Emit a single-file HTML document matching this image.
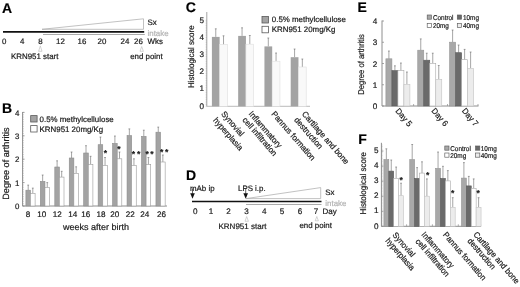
<!DOCTYPE html>
<html lang="en">
<head>
<meta charset="utf-8">
<title>Figure</title>
<style>
html,body{margin:0;padding:0;background:#fff;}
body{width:520px;height:287px;overflow:hidden;}
svg{display:block;font-family:"Liberation Sans", sans-serif;will-change:transform;text-rendering:geometricPrecision;}
svg text{font-family:"Liberation Sans", sans-serif;}
</style>
</head>
<body>
<svg width="520" height="287" viewBox="0 0 520 287">
<rect x="0" y="0" width="520" height="287" fill="#ffffff"/>
<text x="2" y="12.5" font-size="14" text-anchor="start" fill="#000" stroke="#000" stroke-width="0.15" font-weight="bold">A</text>
<polygon points="42,29.3 143.5,18.8 143.5,29.3" fill="#fff" stroke="#a8a8a8" stroke-width="0.7"/>
<line x1="3" y1="31.95" x2="144.2" y2="31.95" stroke="#111" stroke-width="1.7"/>
<line x1="43" y1="34.5" x2="144.8" y2="34.5" stroke="#969696" stroke-width="0.8"/>
<text x="4.3" y="44.3" font-size="7.9" text-anchor="middle" fill="#1a1a1a" stroke="#1a1a1a" stroke-width="0.2" font-weight="normal">0</text>
<text x="22.2" y="44.3" font-size="7.9" text-anchor="middle" fill="#1a1a1a" stroke="#1a1a1a" stroke-width="0.2" font-weight="normal">4</text>
<text x="40.5" y="44.3" font-size="7.9" text-anchor="middle" fill="#1a1a1a" stroke="#1a1a1a" stroke-width="0.2" font-weight="normal">8</text>
<text x="60.5" y="44.3" font-size="7.9" text-anchor="middle" fill="#1a1a1a" stroke="#1a1a1a" stroke-width="0.2" font-weight="normal">12</text>
<text x="82" y="44.3" font-size="7.9" text-anchor="middle" fill="#1a1a1a" stroke="#1a1a1a" stroke-width="0.2" font-weight="normal">16</text>
<text x="102" y="44.3" font-size="7.9" text-anchor="middle" fill="#1a1a1a" stroke="#1a1a1a" stroke-width="0.2" font-weight="normal">20</text>
<text x="125" y="44.3" font-size="7.9" text-anchor="middle" fill="#1a1a1a" stroke="#1a1a1a" stroke-width="0.2" font-weight="normal">24</text>
<text x="138.5" y="44.3" font-size="7.9" text-anchor="middle" fill="#1a1a1a" stroke="#1a1a1a" stroke-width="0.2" font-weight="normal">26</text>
<text x="147.5" y="25.3" font-size="7.9" text-anchor="start" fill="#1a1a1a" stroke="#1a1a1a" stroke-width="0.2" font-weight="normal">Sx</text>
<text x="147.5" y="35.6" font-size="7.9" text-anchor="start" fill="#b4b4b4" stroke="#b4b4b4" stroke-width="0.2" font-weight="normal">intake</text>
<text x="147.5" y="44.3" font-size="7.9" text-anchor="start" fill="#1a1a1a" stroke="#1a1a1a" stroke-width="0.2" font-weight="normal">Wks</text>
<polygon points="38.6,51.3 40.3,45.9 42.0,51.3" fill="#fff" stroke="#b8b8b8" stroke-width="0.6"/>
<polygon points="140.0,51.3 141.7,46.5 143.4,51.3" fill="#fff" stroke="#b8b8b8" stroke-width="0.6"/>
<text x="11" y="58.5" font-size="7.9" text-anchor="start" fill="#1a1a1a" stroke="#1a1a1a" stroke-width="0.2" font-weight="normal">KRN951 start</text>
<text x="130.2" y="58.5" font-size="7.9" text-anchor="start" fill="#1a1a1a" stroke="#1a1a1a" stroke-width="0.2" font-weight="normal">end point</text>
<text x="2" y="112.8" font-size="14" text-anchor="start" fill="#000" stroke="#000" stroke-width="0.15" font-weight="bold">B</text>
<line x1="22.6" y1="112" x2="22.6" y2="206.0" stroke="#8e8e8e" stroke-width="1"/>
<line x1="22.6" y1="206.0" x2="167" y2="206.0" stroke="#8e8e8e" stroke-width="1"/>
<text x="19.3" y="209.2" font-size="7.9" text-anchor="end" fill="#1a1a1a" stroke="#1a1a1a" stroke-width="0.2" font-weight="normal">0</text>
<line x1="22.6" y1="206.0" x2="24.6" y2="206.0" stroke="#8e8e8e" stroke-width="0.8"/>
<text x="19.3" y="185.79999999999998" font-size="7.9" text-anchor="end" fill="#1a1a1a" stroke="#1a1a1a" stroke-width="0.2" font-weight="normal">1</text>
<line x1="22.6" y1="182.6" x2="24.6" y2="182.6" stroke="#8e8e8e" stroke-width="0.8"/>
<text x="19.3" y="162.39999999999998" font-size="7.9" text-anchor="end" fill="#1a1a1a" stroke="#1a1a1a" stroke-width="0.2" font-weight="normal">2</text>
<line x1="22.6" y1="159.2" x2="24.6" y2="159.2" stroke="#8e8e8e" stroke-width="0.8"/>
<text x="19.3" y="139.0" font-size="7.9" text-anchor="end" fill="#1a1a1a" stroke="#1a1a1a" stroke-width="0.2" font-weight="normal">3</text>
<line x1="22.6" y1="135.8" x2="24.6" y2="135.8" stroke="#8e8e8e" stroke-width="0.8"/>
<text x="19.3" y="115.60000000000001" font-size="7.9" text-anchor="end" fill="#1a1a1a" stroke="#1a1a1a" stroke-width="0.2" font-weight="normal">4</text>
<line x1="22.6" y1="112.4" x2="24.6" y2="112.4" stroke="#8e8e8e" stroke-width="0.8"/>
<line x1="22.6" y1="206.00" x2="23.8" y2="206.00" stroke="#8e8e8e" stroke-width="0.4"/>
<line x1="22.6" y1="203.66" x2="23.8" y2="203.66" stroke="#8e8e8e" stroke-width="0.4"/>
<line x1="22.6" y1="201.32" x2="23.8" y2="201.32" stroke="#8e8e8e" stroke-width="0.4"/>
<line x1="22.6" y1="198.98" x2="23.8" y2="198.98" stroke="#8e8e8e" stroke-width="0.4"/>
<line x1="22.6" y1="196.64" x2="23.8" y2="196.64" stroke="#8e8e8e" stroke-width="0.4"/>
<line x1="22.6" y1="194.30" x2="23.8" y2="194.30" stroke="#8e8e8e" stroke-width="0.4"/>
<line x1="22.6" y1="191.96" x2="23.8" y2="191.96" stroke="#8e8e8e" stroke-width="0.4"/>
<line x1="22.6" y1="189.62" x2="23.8" y2="189.62" stroke="#8e8e8e" stroke-width="0.4"/>
<line x1="22.6" y1="187.28" x2="23.8" y2="187.28" stroke="#8e8e8e" stroke-width="0.4"/>
<line x1="22.6" y1="184.94" x2="23.8" y2="184.94" stroke="#8e8e8e" stroke-width="0.4"/>
<line x1="22.6" y1="182.60" x2="23.8" y2="182.60" stroke="#8e8e8e" stroke-width="0.4"/>
<line x1="22.6" y1="180.26" x2="23.8" y2="180.26" stroke="#8e8e8e" stroke-width="0.4"/>
<line x1="22.6" y1="177.92" x2="23.8" y2="177.92" stroke="#8e8e8e" stroke-width="0.4"/>
<line x1="22.6" y1="175.58" x2="23.8" y2="175.58" stroke="#8e8e8e" stroke-width="0.4"/>
<line x1="22.6" y1="173.24" x2="23.8" y2="173.24" stroke="#8e8e8e" stroke-width="0.4"/>
<line x1="22.6" y1="170.90" x2="23.8" y2="170.90" stroke="#8e8e8e" stroke-width="0.4"/>
<line x1="22.6" y1="168.56" x2="23.8" y2="168.56" stroke="#8e8e8e" stroke-width="0.4"/>
<line x1="22.6" y1="166.22" x2="23.8" y2="166.22" stroke="#8e8e8e" stroke-width="0.4"/>
<line x1="22.6" y1="163.88" x2="23.8" y2="163.88" stroke="#8e8e8e" stroke-width="0.4"/>
<line x1="22.6" y1="161.54" x2="23.8" y2="161.54" stroke="#8e8e8e" stroke-width="0.4"/>
<line x1="22.6" y1="159.20" x2="23.8" y2="159.20" stroke="#8e8e8e" stroke-width="0.4"/>
<line x1="22.6" y1="156.86" x2="23.8" y2="156.86" stroke="#8e8e8e" stroke-width="0.4"/>
<line x1="22.6" y1="154.52" x2="23.8" y2="154.52" stroke="#8e8e8e" stroke-width="0.4"/>
<line x1="22.6" y1="152.18" x2="23.8" y2="152.18" stroke="#8e8e8e" stroke-width="0.4"/>
<line x1="22.6" y1="149.84" x2="23.8" y2="149.84" stroke="#8e8e8e" stroke-width="0.4"/>
<line x1="22.6" y1="147.50" x2="23.8" y2="147.50" stroke="#8e8e8e" stroke-width="0.4"/>
<line x1="22.6" y1="145.16" x2="23.8" y2="145.16" stroke="#8e8e8e" stroke-width="0.4"/>
<line x1="22.6" y1="142.82" x2="23.8" y2="142.82" stroke="#8e8e8e" stroke-width="0.4"/>
<line x1="22.6" y1="140.48" x2="23.8" y2="140.48" stroke="#8e8e8e" stroke-width="0.4"/>
<line x1="22.6" y1="138.14" x2="23.8" y2="138.14" stroke="#8e8e8e" stroke-width="0.4"/>
<line x1="22.6" y1="135.80" x2="23.8" y2="135.80" stroke="#8e8e8e" stroke-width="0.4"/>
<line x1="22.6" y1="133.46" x2="23.8" y2="133.46" stroke="#8e8e8e" stroke-width="0.4"/>
<line x1="22.6" y1="131.12" x2="23.8" y2="131.12" stroke="#8e8e8e" stroke-width="0.4"/>
<line x1="22.6" y1="128.78" x2="23.8" y2="128.78" stroke="#8e8e8e" stroke-width="0.4"/>
<line x1="22.6" y1="126.44" x2="23.8" y2="126.44" stroke="#8e8e8e" stroke-width="0.4"/>
<line x1="22.6" y1="124.10" x2="23.8" y2="124.10" stroke="#8e8e8e" stroke-width="0.4"/>
<line x1="22.6" y1="121.76" x2="23.8" y2="121.76" stroke="#8e8e8e" stroke-width="0.4"/>
<line x1="22.6" y1="119.42" x2="23.8" y2="119.42" stroke="#8e8e8e" stroke-width="0.4"/>
<line x1="22.6" y1="117.08" x2="23.8" y2="117.08" stroke="#8e8e8e" stroke-width="0.4"/>
<line x1="22.6" y1="114.74" x2="23.8" y2="114.74" stroke="#8e8e8e" stroke-width="0.4"/>
<line x1="22.6" y1="112.40" x2="23.8" y2="112.40" stroke="#8e8e8e" stroke-width="0.4"/>
<text x="9.2" y="163.6" font-size="9.1" text-anchor="middle" fill="#1a1a1a" stroke="#1a1a1a" stroke-width="0.2" font-weight="normal" transform="rotate(-90 9.2 163.6)">Degree of arthritis</text>
<line x1="28.20" y1="185.10" x2="28.20" y2="190.20" stroke="#5c5c5c" stroke-width="0.55"/>
<line x1="27.30" y1="185.10" x2="29.10" y2="185.10" stroke="#5c5c5c" stroke-width="0.55"/>
<rect x="25.90" y="190.20" width="4.60" height="15.80" fill="#a3a3a3" stroke="#8c8c8c" stroke-width="0.6"/>
<line x1="32.80" y1="188.10" x2="32.80" y2="193.40" stroke="#5c5c5c" stroke-width="0.55"/>
<line x1="31.90" y1="188.10" x2="33.70" y2="188.10" stroke="#5c5c5c" stroke-width="0.55"/>
<rect x="30.50" y="193.40" width="4.60" height="12.60" fill="#fff" stroke="#9a9a9a" stroke-width="0.6"/>
<text x="28.1" y="217.0" font-size="8.1" text-anchor="middle" fill="#1a1a1a" stroke="#1a1a1a" stroke-width="0.2" font-weight="normal">8</text>
<line x1="42.65" y1="175.00" x2="42.65" y2="181.40" stroke="#5c5c5c" stroke-width="0.55"/>
<line x1="41.75" y1="175.00" x2="43.55" y2="175.00" stroke="#5c5c5c" stroke-width="0.55"/>
<rect x="40.35" y="181.40" width="4.60" height="24.60" fill="#a3a3a3" stroke="#8c8c8c" stroke-width="0.6"/>
<line x1="47.25" y1="182.60" x2="47.25" y2="187.60" stroke="#5c5c5c" stroke-width="0.55"/>
<line x1="46.35" y1="182.60" x2="48.15" y2="182.60" stroke="#5c5c5c" stroke-width="0.55"/>
<rect x="44.95" y="187.60" width="4.60" height="18.40" fill="#fff" stroke="#9a9a9a" stroke-width="0.6"/>
<text x="41.8" y="217.0" font-size="8.1" text-anchor="middle" fill="#1a1a1a" stroke="#1a1a1a" stroke-width="0.2" font-weight="normal">10</text>
<line x1="57.10" y1="160.80" x2="57.10" y2="167.00" stroke="#5c5c5c" stroke-width="0.55"/>
<line x1="56.20" y1="160.80" x2="58.00" y2="160.80" stroke="#5c5c5c" stroke-width="0.55"/>
<rect x="54.80" y="167.00" width="4.60" height="39.00" fill="#a3a3a3" stroke="#8c8c8c" stroke-width="0.6"/>
<line x1="61.70" y1="171.30" x2="61.70" y2="177.10" stroke="#5c5c5c" stroke-width="0.55"/>
<line x1="60.80" y1="171.30" x2="62.60" y2="171.30" stroke="#5c5c5c" stroke-width="0.55"/>
<rect x="59.40" y="177.10" width="4.60" height="28.90" fill="#fff" stroke="#9a9a9a" stroke-width="0.6"/>
<text x="57.2" y="217.0" font-size="8.1" text-anchor="middle" fill="#1a1a1a" stroke="#1a1a1a" stroke-width="0.2" font-weight="normal">12</text>
<line x1="71.55" y1="152.00" x2="71.55" y2="158.00" stroke="#5c5c5c" stroke-width="0.55"/>
<line x1="70.65" y1="152.00" x2="72.45" y2="152.00" stroke="#5c5c5c" stroke-width="0.55"/>
<rect x="69.25" y="158.00" width="4.60" height="48.00" fill="#a3a3a3" stroke="#8c8c8c" stroke-width="0.6"/>
<line x1="76.15" y1="166.80" x2="76.15" y2="173.30" stroke="#5c5c5c" stroke-width="0.55"/>
<line x1="75.25" y1="166.80" x2="77.05" y2="166.80" stroke="#5c5c5c" stroke-width="0.55"/>
<rect x="73.85" y="173.30" width="4.60" height="32.70" fill="#fff" stroke="#9a9a9a" stroke-width="0.6"/>
<text x="72.8" y="217.0" font-size="8.1" text-anchor="middle" fill="#1a1a1a" stroke="#1a1a1a" stroke-width="0.2" font-weight="normal">14</text>
<line x1="86.00" y1="145.70" x2="86.00" y2="153.00" stroke="#5c5c5c" stroke-width="0.55"/>
<line x1="85.10" y1="145.70" x2="86.90" y2="145.70" stroke="#5c5c5c" stroke-width="0.55"/>
<rect x="83.70" y="153.00" width="4.60" height="53.00" fill="#a3a3a3" stroke="#8c8c8c" stroke-width="0.6"/>
<line x1="90.60" y1="156.30" x2="90.60" y2="164.30" stroke="#5c5c5c" stroke-width="0.55"/>
<line x1="89.70" y1="156.30" x2="91.50" y2="156.30" stroke="#5c5c5c" stroke-width="0.55"/>
<rect x="88.30" y="164.30" width="4.60" height="41.70" fill="#fff" stroke="#9a9a9a" stroke-width="0.6"/>
<text x="85.7" y="217.0" font-size="8.1" text-anchor="middle" fill="#1a1a1a" stroke="#1a1a1a" stroke-width="0.2" font-weight="normal">16</text>
<line x1="100.45" y1="137.00" x2="100.45" y2="144.70" stroke="#5c5c5c" stroke-width="0.55"/>
<line x1="99.55" y1="137.00" x2="101.35" y2="137.00" stroke="#5c5c5c" stroke-width="0.55"/>
<rect x="98.15" y="144.70" width="4.60" height="61.30" fill="#a3a3a3" stroke="#8c8c8c" stroke-width="0.6"/>
<line x1="105.05" y1="157.50" x2="105.05" y2="165.60" stroke="#5c5c5c" stroke-width="0.55"/>
<line x1="104.15" y1="157.50" x2="105.95" y2="157.50" stroke="#5c5c5c" stroke-width="0.55"/>
<rect x="102.75" y="165.60" width="4.60" height="40.40" fill="#fff" stroke="#9a9a9a" stroke-width="0.6"/>
<text x="100.9" y="217.0" font-size="8.1" text-anchor="middle" fill="#1a1a1a" stroke="#1a1a1a" stroke-width="0.2" font-weight="normal">18</text>
<line x1="114.90" y1="136.00" x2="114.90" y2="143.40" stroke="#5c5c5c" stroke-width="0.55"/>
<line x1="114.00" y1="136.00" x2="115.80" y2="136.00" stroke="#5c5c5c" stroke-width="0.55"/>
<rect x="112.60" y="143.40" width="4.60" height="62.60" fill="#a3a3a3" stroke="#8c8c8c" stroke-width="0.6"/>
<line x1="119.50" y1="152.00" x2="119.50" y2="158.80" stroke="#5c5c5c" stroke-width="0.55"/>
<line x1="118.60" y1="152.00" x2="120.40" y2="152.00" stroke="#5c5c5c" stroke-width="0.55"/>
<rect x="117.20" y="158.80" width="4.60" height="47.20" fill="#fff" stroke="#9a9a9a" stroke-width="0.6"/>
<text x="114.8" y="217.0" font-size="8.1" text-anchor="middle" fill="#1a1a1a" stroke="#1a1a1a" stroke-width="0.2" font-weight="normal">20</text>
<line x1="129.35" y1="128.90" x2="129.35" y2="135.60" stroke="#5c5c5c" stroke-width="0.55"/>
<line x1="128.45" y1="128.90" x2="130.25" y2="128.90" stroke="#5c5c5c" stroke-width="0.55"/>
<rect x="127.05" y="135.60" width="4.60" height="70.40" fill="#a3a3a3" stroke="#8c8c8c" stroke-width="0.6"/>
<line x1="133.95" y1="158.80" x2="133.95" y2="165.60" stroke="#5c5c5c" stroke-width="0.55"/>
<line x1="133.05" y1="158.80" x2="134.85" y2="158.80" stroke="#5c5c5c" stroke-width="0.55"/>
<rect x="131.65" y="165.60" width="4.60" height="40.40" fill="#fff" stroke="#9a9a9a" stroke-width="0.6"/>
<text x="130.2" y="217.0" font-size="8.1" text-anchor="middle" fill="#1a1a1a" stroke="#1a1a1a" stroke-width="0.2" font-weight="normal">22</text>
<line x1="143.80" y1="130.20" x2="143.80" y2="136.40" stroke="#5c5c5c" stroke-width="0.55"/>
<line x1="142.90" y1="130.20" x2="144.70" y2="130.20" stroke="#5c5c5c" stroke-width="0.55"/>
<rect x="141.50" y="136.40" width="4.60" height="69.60" fill="#a3a3a3" stroke="#8c8c8c" stroke-width="0.6"/>
<line x1="148.40" y1="157.50" x2="148.40" y2="164.60" stroke="#5c5c5c" stroke-width="0.55"/>
<line x1="147.50" y1="157.50" x2="149.30" y2="157.50" stroke="#5c5c5c" stroke-width="0.55"/>
<rect x="146.10" y="164.60" width="4.60" height="41.40" fill="#fff" stroke="#9a9a9a" stroke-width="0.6"/>
<text x="144.8" y="217.0" font-size="8.1" text-anchor="middle" fill="#1a1a1a" stroke="#1a1a1a" stroke-width="0.2" font-weight="normal">24</text>
<line x1="158.25" y1="127.10" x2="158.25" y2="132.20" stroke="#5c5c5c" stroke-width="0.55"/>
<line x1="157.35" y1="127.10" x2="159.15" y2="127.10" stroke="#5c5c5c" stroke-width="0.55"/>
<rect x="155.95" y="132.20" width="4.60" height="73.80" fill="#a3a3a3" stroke="#8c8c8c" stroke-width="0.6"/>
<line x1="162.85" y1="155.00" x2="162.85" y2="162.00" stroke="#5c5c5c" stroke-width="0.55"/>
<line x1="161.95" y1="155.00" x2="163.75" y2="155.00" stroke="#5c5c5c" stroke-width="0.55"/>
<rect x="160.55" y="162.00" width="4.60" height="44.00" fill="#fff" stroke="#9a9a9a" stroke-width="0.6"/>
<text x="161.6" y="217.0" font-size="8.1" text-anchor="middle" fill="#1a1a1a" stroke="#1a1a1a" stroke-width="0.2" font-weight="normal">26</text>
<text x="105.5" y="156.4" font-size="8.6" text-anchor="middle" fill="#1a1a1a" stroke="#1a1a1a" stroke-width="0.15" font-weight="bold">*</text>
<text x="119" y="151.9" font-size="8.6" text-anchor="middle" fill="#1a1a1a" stroke="#1a1a1a" stroke-width="0.15" font-weight="bold">*</text>
<text x="133.5" y="156.70000000000002" font-size="8.6" text-anchor="middle" fill="#1a1a1a" stroke="#1a1a1a" stroke-width="0.15" font-weight="bold">*</text>
<text x="138.8" y="156.70000000000002" font-size="8.6" text-anchor="middle" fill="#1a1a1a" stroke="#1a1a1a" stroke-width="0.15" font-weight="bold">*</text>
<text x="147.3" y="156.70000000000002" font-size="8.6" text-anchor="middle" fill="#1a1a1a" stroke="#1a1a1a" stroke-width="0.15" font-weight="bold">*</text>
<text x="152" y="156.70000000000002" font-size="8.6" text-anchor="middle" fill="#1a1a1a" stroke="#1a1a1a" stroke-width="0.15" font-weight="bold">*</text>
<text x="161.6" y="154.6" font-size="8.6" text-anchor="middle" fill="#1a1a1a" stroke="#1a1a1a" stroke-width="0.15" font-weight="bold">*</text>
<text x="166.6" y="154.6" font-size="8.6" text-anchor="middle" fill="#1a1a1a" stroke="#1a1a1a" stroke-width="0.15" font-weight="bold">*</text>
<rect x="30.70" y="115.60" width="6.40" height="6.40" fill="#a3a3a3" stroke="#5a5a5a" stroke-width="0.8"/>
<rect x="30.70" y="125.60" width="6.40" height="6.40" fill="#fff" stroke="#5a5a5a" stroke-width="0.8"/>
<text x="39.6" y="122" font-size="7.9" text-anchor="start" fill="#1a1a1a" stroke="#1a1a1a" stroke-width="0.2" font-weight="normal">0.5% methylcellulose</text>
<text x="39.6" y="131.8" font-size="7.9" text-anchor="start" fill="#1a1a1a" stroke="#1a1a1a" stroke-width="0.2" font-weight="normal">KRN951 20mg/Kg</text>
<text x="96" y="230" font-size="9.0" text-anchor="middle" fill="#1a1a1a" stroke="#1a1a1a" stroke-width="0.2" font-weight="normal">weeks after birth</text>
<text x="185.7" y="12.2" font-size="14" text-anchor="start" fill="#000" stroke="#000" stroke-width="0.15" font-weight="bold">C</text>
<line x1="206.8" y1="12" x2="206.8" y2="106.3" stroke="#9a9a9a" stroke-width="0.9"/>
<line x1="206.8" y1="106.3" x2="310" y2="106.3" stroke="#a8a8a8" stroke-width="0.8"/>
<text x="203.9" y="108.6" font-size="8.1" text-anchor="end" fill="#1a1a1a" stroke="#1a1a1a" stroke-width="0.2" font-weight="normal">0</text>
<text x="203.9" y="91.39999999999999" font-size="8.1" text-anchor="end" fill="#1a1a1a" stroke="#1a1a1a" stroke-width="0.2" font-weight="normal">1</text>
<text x="203.9" y="74.2" font-size="8.1" text-anchor="end" fill="#1a1a1a" stroke="#1a1a1a" stroke-width="0.2" font-weight="normal">2</text>
<text x="203.9" y="57.0" font-size="8.1" text-anchor="end" fill="#1a1a1a" stroke="#1a1a1a" stroke-width="0.2" font-weight="normal">3</text>
<text x="203.9" y="39.8" font-size="8.1" text-anchor="end" fill="#1a1a1a" stroke="#1a1a1a" stroke-width="0.2" font-weight="normal">4</text>
<text x="203.9" y="22.599999999999998" font-size="8.1" text-anchor="end" fill="#1a1a1a" stroke="#1a1a1a" stroke-width="0.2" font-weight="normal">5</text>
<line x1="205.60000000000002" y1="106.30" x2="206.8" y2="106.30" stroke="#8e8e8e" stroke-width="0.35"/>
<line x1="205.60000000000002" y1="104.58" x2="206.8" y2="104.58" stroke="#8e8e8e" stroke-width="0.35"/>
<line x1="205.60000000000002" y1="102.86" x2="206.8" y2="102.86" stroke="#8e8e8e" stroke-width="0.35"/>
<line x1="205.60000000000002" y1="101.14" x2="206.8" y2="101.14" stroke="#8e8e8e" stroke-width="0.35"/>
<line x1="205.60000000000002" y1="99.42" x2="206.8" y2="99.42" stroke="#8e8e8e" stroke-width="0.35"/>
<line x1="205.60000000000002" y1="97.70" x2="206.8" y2="97.70" stroke="#8e8e8e" stroke-width="0.35"/>
<line x1="205.60000000000002" y1="95.98" x2="206.8" y2="95.98" stroke="#8e8e8e" stroke-width="0.35"/>
<line x1="205.60000000000002" y1="94.26" x2="206.8" y2="94.26" stroke="#8e8e8e" stroke-width="0.35"/>
<line x1="205.60000000000002" y1="92.54" x2="206.8" y2="92.54" stroke="#8e8e8e" stroke-width="0.35"/>
<line x1="205.60000000000002" y1="90.82" x2="206.8" y2="90.82" stroke="#8e8e8e" stroke-width="0.35"/>
<line x1="205.60000000000002" y1="89.10" x2="206.8" y2="89.10" stroke="#8e8e8e" stroke-width="0.35"/>
<line x1="205.60000000000002" y1="87.38" x2="206.8" y2="87.38" stroke="#8e8e8e" stroke-width="0.35"/>
<line x1="205.60000000000002" y1="85.66" x2="206.8" y2="85.66" stroke="#8e8e8e" stroke-width="0.35"/>
<line x1="205.60000000000002" y1="83.94" x2="206.8" y2="83.94" stroke="#8e8e8e" stroke-width="0.35"/>
<line x1="205.60000000000002" y1="82.22" x2="206.8" y2="82.22" stroke="#8e8e8e" stroke-width="0.35"/>
<line x1="205.60000000000002" y1="80.50" x2="206.8" y2="80.50" stroke="#8e8e8e" stroke-width="0.35"/>
<line x1="205.60000000000002" y1="78.78" x2="206.8" y2="78.78" stroke="#8e8e8e" stroke-width="0.35"/>
<line x1="205.60000000000002" y1="77.06" x2="206.8" y2="77.06" stroke="#8e8e8e" stroke-width="0.35"/>
<line x1="205.60000000000002" y1="75.34" x2="206.8" y2="75.34" stroke="#8e8e8e" stroke-width="0.35"/>
<line x1="205.60000000000002" y1="73.62" x2="206.8" y2="73.62" stroke="#8e8e8e" stroke-width="0.35"/>
<line x1="205.60000000000002" y1="71.90" x2="206.8" y2="71.90" stroke="#8e8e8e" stroke-width="0.35"/>
<line x1="205.60000000000002" y1="70.18" x2="206.8" y2="70.18" stroke="#8e8e8e" stroke-width="0.35"/>
<line x1="205.60000000000002" y1="68.46" x2="206.8" y2="68.46" stroke="#8e8e8e" stroke-width="0.35"/>
<line x1="205.60000000000002" y1="66.74" x2="206.8" y2="66.74" stroke="#8e8e8e" stroke-width="0.35"/>
<line x1="205.60000000000002" y1="65.02" x2="206.8" y2="65.02" stroke="#8e8e8e" stroke-width="0.35"/>
<line x1="205.60000000000002" y1="63.30" x2="206.8" y2="63.30" stroke="#8e8e8e" stroke-width="0.35"/>
<line x1="205.60000000000002" y1="61.58" x2="206.8" y2="61.58" stroke="#8e8e8e" stroke-width="0.35"/>
<line x1="205.60000000000002" y1="59.86" x2="206.8" y2="59.86" stroke="#8e8e8e" stroke-width="0.35"/>
<line x1="205.60000000000002" y1="58.14" x2="206.8" y2="58.14" stroke="#8e8e8e" stroke-width="0.35"/>
<line x1="205.60000000000002" y1="56.42" x2="206.8" y2="56.42" stroke="#8e8e8e" stroke-width="0.35"/>
<line x1="205.60000000000002" y1="54.70" x2="206.8" y2="54.70" stroke="#8e8e8e" stroke-width="0.35"/>
<line x1="205.60000000000002" y1="52.98" x2="206.8" y2="52.98" stroke="#8e8e8e" stroke-width="0.35"/>
<line x1="205.60000000000002" y1="51.26" x2="206.8" y2="51.26" stroke="#8e8e8e" stroke-width="0.35"/>
<line x1="205.60000000000002" y1="49.54" x2="206.8" y2="49.54" stroke="#8e8e8e" stroke-width="0.35"/>
<line x1="205.60000000000002" y1="47.82" x2="206.8" y2="47.82" stroke="#8e8e8e" stroke-width="0.35"/>
<line x1="205.60000000000002" y1="46.10" x2="206.8" y2="46.10" stroke="#8e8e8e" stroke-width="0.35"/>
<line x1="205.60000000000002" y1="44.38" x2="206.8" y2="44.38" stroke="#8e8e8e" stroke-width="0.35"/>
<line x1="205.60000000000002" y1="42.66" x2="206.8" y2="42.66" stroke="#8e8e8e" stroke-width="0.35"/>
<line x1="205.60000000000002" y1="40.94" x2="206.8" y2="40.94" stroke="#8e8e8e" stroke-width="0.35"/>
<line x1="205.60000000000002" y1="39.22" x2="206.8" y2="39.22" stroke="#8e8e8e" stroke-width="0.35"/>
<line x1="205.60000000000002" y1="37.50" x2="206.8" y2="37.50" stroke="#8e8e8e" stroke-width="0.35"/>
<line x1="205.60000000000002" y1="35.78" x2="206.8" y2="35.78" stroke="#8e8e8e" stroke-width="0.35"/>
<line x1="205.60000000000002" y1="34.06" x2="206.8" y2="34.06" stroke="#8e8e8e" stroke-width="0.35"/>
<line x1="205.60000000000002" y1="32.34" x2="206.8" y2="32.34" stroke="#8e8e8e" stroke-width="0.35"/>
<line x1="205.60000000000002" y1="30.62" x2="206.8" y2="30.62" stroke="#8e8e8e" stroke-width="0.35"/>
<line x1="205.60000000000002" y1="28.90" x2="206.8" y2="28.90" stroke="#8e8e8e" stroke-width="0.35"/>
<line x1="205.60000000000002" y1="27.18" x2="206.8" y2="27.18" stroke="#8e8e8e" stroke-width="0.35"/>
<line x1="205.60000000000002" y1="25.46" x2="206.8" y2="25.46" stroke="#8e8e8e" stroke-width="0.35"/>
<line x1="205.60000000000002" y1="23.74" x2="206.8" y2="23.74" stroke="#8e8e8e" stroke-width="0.35"/>
<line x1="205.60000000000002" y1="22.02" x2="206.8" y2="22.02" stroke="#8e8e8e" stroke-width="0.35"/>
<line x1="205.60000000000002" y1="20.30" x2="206.8" y2="20.30" stroke="#8e8e8e" stroke-width="0.35"/>
<text x="194.0" y="56.7" font-size="8.4" text-anchor="middle" fill="#1a1a1a" stroke="#1a1a1a" stroke-width="0.2" font-weight="normal" transform="translate(194.0 56.7) rotate(-90) scale(0.955 1) translate(-194.0 -56.7)">Histological score</text>
<line x1="215.78" y1="28.80" x2="215.78" y2="36.90" stroke="#5c5c5c" stroke-width="0.55"/>
<line x1="214.88" y1="28.80" x2="216.68" y2="28.80" stroke="#5c5c5c" stroke-width="0.55"/>
<rect x="211.90" y="36.90" width="7.75" height="69.40" fill="#a3a3a3" stroke="none" stroke-width="0.6"/>
<line x1="223.53" y1="35.80" x2="223.53" y2="44.60" stroke="#5c5c5c" stroke-width="0.55"/>
<line x1="222.62" y1="35.80" x2="224.43" y2="35.80" stroke="#5c5c5c" stroke-width="0.55"/>
<rect x="219.65" y="44.60" width="7.75" height="61.70" fill="#f9f9f9" stroke="#dedede" stroke-width="0.6"/>
<line x1="242.05" y1="27.80" x2="242.05" y2="35.90" stroke="#5c5c5c" stroke-width="0.55"/>
<line x1="241.15" y1="27.80" x2="242.95" y2="27.80" stroke="#5c5c5c" stroke-width="0.55"/>
<rect x="238.17" y="35.90" width="7.75" height="70.40" fill="#a3a3a3" stroke="none" stroke-width="0.6"/>
<line x1="249.80" y1="35.50" x2="249.80" y2="44.20" stroke="#5c5c5c" stroke-width="0.55"/>
<line x1="248.90" y1="35.50" x2="250.70" y2="35.50" stroke="#5c5c5c" stroke-width="0.55"/>
<rect x="245.92" y="44.20" width="7.75" height="62.10" fill="#f9f9f9" stroke="#dedede" stroke-width="0.6"/>
<line x1="268.31" y1="38.00" x2="268.31" y2="46.40" stroke="#5c5c5c" stroke-width="0.55"/>
<line x1="267.42" y1="38.00" x2="269.21" y2="38.00" stroke="#5c5c5c" stroke-width="0.55"/>
<rect x="264.44" y="46.40" width="7.75" height="59.90" fill="#a3a3a3" stroke="none" stroke-width="0.6"/>
<line x1="276.06" y1="53.00" x2="276.06" y2="61.20" stroke="#5c5c5c" stroke-width="0.55"/>
<line x1="275.17" y1="53.00" x2="276.96" y2="53.00" stroke="#5c5c5c" stroke-width="0.55"/>
<rect x="272.19" y="61.20" width="7.75" height="45.10" fill="#f9f9f9" stroke="#dedede" stroke-width="0.6"/>
<line x1="294.59" y1="49.00" x2="294.59" y2="57.20" stroke="#5c5c5c" stroke-width="0.55"/>
<line x1="293.69" y1="49.00" x2="295.49" y2="49.00" stroke="#5c5c5c" stroke-width="0.55"/>
<rect x="290.71" y="57.20" width="7.75" height="49.10" fill="#a3a3a3" stroke="none" stroke-width="0.6"/>
<line x1="302.34" y1="59.00" x2="302.34" y2="67.00" stroke="#5c5c5c" stroke-width="0.55"/>
<line x1="301.44" y1="59.00" x2="303.24" y2="59.00" stroke="#5c5c5c" stroke-width="0.55"/>
<rect x="298.46" y="67.00" width="7.75" height="39.30" fill="#f9f9f9" stroke="#dedede" stroke-width="0.6"/>
<rect x="262.00" y="16.50" width="6.50" height="6.50" fill="#a3a3a3" stroke="#5a5a5a" stroke-width="0.8"/>
<rect x="262.00" y="26.30" width="6.50" height="6.50" fill="#fff" stroke="#5a5a5a" stroke-width="0.8"/>
<text x="271.8" y="22.2" font-size="7.9" text-anchor="start" fill="#1a1a1a" stroke="#1a1a1a" stroke-width="0.2" font-weight="normal">0.5% methylcellulose</text>
<text x="271.8" y="32.2" font-size="7.9" text-anchor="start" fill="#1a1a1a" stroke="#1a1a1a" stroke-width="0.2" font-weight="normal">KRN951 20mg/Kg</text>
<text x="220.7" y="114.3" font-size="8.35" text-anchor="start" fill="#1a1a1a" stroke="#1a1a1a" stroke-width="0.2" font-weight="normal" transform="translate(220.7 114.3) rotate(49) scale(0.95 1) translate(-220.7 -114.3)">Synovial</text>
<text x="212.8" y="120.6" font-size="8.35" text-anchor="start" fill="#1a1a1a" stroke="#1a1a1a" stroke-width="0.2" font-weight="normal" transform="translate(212.8 120.6) rotate(49) scale(0.95 1) translate(-212.8 -120.6)">hyperplasia</text>
<text x="248.2" y="114.0" font-size="8.35" text-anchor="start" fill="#1a1a1a" stroke="#1a1a1a" stroke-width="0.2" font-weight="normal" transform="translate(248.2 114.0) rotate(49) scale(0.95 1) translate(-248.2 -114.0)">Inflammatory</text>
<text x="242.0" y="120.3" font-size="8.35" text-anchor="start" fill="#1a1a1a" stroke="#1a1a1a" stroke-width="0.2" font-weight="normal" transform="translate(242.0 120.3) rotate(49) scale(0.95 1) translate(-242.0 -120.3)">cell infiltration</text>
<text x="271.0" y="114.3" font-size="8.35" text-anchor="start" fill="#1a1a1a" stroke="#1a1a1a" stroke-width="0.2" font-weight="normal" transform="translate(271.0 114.3) rotate(49) scale(0.95 1) translate(-271.0 -114.3)">Pannus formation</text>
<text x="301.5" y="114.3" font-size="8.35" text-anchor="start" fill="#1a1a1a" stroke="#1a1a1a" stroke-width="0.2" font-weight="normal" transform="translate(301.5 114.3) rotate(49) scale(0.95 1) translate(-301.5 -114.3)">Cartilage and bone</text>
<text x="293.8" y="120.3" font-size="8.35" text-anchor="start" fill="#1a1a1a" stroke="#1a1a1a" stroke-width="0.2" font-weight="normal" transform="translate(293.8 120.3) rotate(49) scale(0.95 1) translate(-293.8 -120.3)">destruction</text>
<text x="185.9" y="180.2" font-size="14" text-anchor="start" fill="#000" stroke="#000" stroke-width="0.15" font-weight="bold">D</text>
<text x="190" y="191" font-size="7.9" text-anchor="start" fill="#1a1a1a" stroke="#1a1a1a" stroke-width="0.2" font-weight="normal">mAb ip</text>
<text x="238.0" y="191" font-size="7.9" text-anchor="start" fill="#1a1a1a" stroke="#1a1a1a" stroke-width="0.2" font-weight="normal">LPS i.p.</text>
<polygon points="190.2,193.2 194.8,193.2 192.5,198.8" fill="#111"/>
<polygon points="243.4,193.2 248.0,193.2 245.7,198.8" fill="#111"/>
<line x1="192.5" y1="188.5" x2="192.5" y2="194" stroke="#222" stroke-width="0.7"/>
<line x1="245.7" y1="188.5" x2="245.7" y2="194" stroke="#222" stroke-width="0.7"/>
<polygon points="246,198.6 320.7,187.6 320.7,198.6" fill="#fff" stroke="#a8a8a8" stroke-width="0.7"/>
<line x1="192" y1="201.5" x2="321.5" y2="201.5" stroke="#111" stroke-width="1.6"/>
<line x1="246" y1="204.5" x2="321.5" y2="204.5" stroke="#969696" stroke-width="0.8"/>
<text x="195.2" y="214.0" font-size="8.1" text-anchor="middle" fill="#1a1a1a" stroke="#1a1a1a" stroke-width="0.2" font-weight="normal">0</text>
<text x="210.9" y="214.0" font-size="8.1" text-anchor="middle" fill="#1a1a1a" stroke="#1a1a1a" stroke-width="0.2" font-weight="normal">1</text>
<text x="228.6" y="214.0" font-size="8.1" text-anchor="middle" fill="#1a1a1a" stroke="#1a1a1a" stroke-width="0.2" font-weight="normal">2</text>
<text x="246.5" y="214.0" font-size="8.1" text-anchor="middle" fill="#1a1a1a" stroke="#1a1a1a" stroke-width="0.2" font-weight="normal">3</text>
<text x="264.3" y="214.0" font-size="8.1" text-anchor="middle" fill="#1a1a1a" stroke="#1a1a1a" stroke-width="0.2" font-weight="normal">4</text>
<text x="282.0" y="214.0" font-size="8.1" text-anchor="middle" fill="#1a1a1a" stroke="#1a1a1a" stroke-width="0.2" font-weight="normal">5</text>
<text x="300.0" y="214.0" font-size="8.1" text-anchor="middle" fill="#1a1a1a" stroke="#1a1a1a" stroke-width="0.2" font-weight="normal">6</text>
<text x="316.0" y="214.0" font-size="8.1" text-anchor="middle" fill="#1a1a1a" stroke="#1a1a1a" stroke-width="0.2" font-weight="normal">7</text>
<text x="322.6" y="213.8" font-size="8.0" text-anchor="start" fill="#1a1a1a" stroke="#1a1a1a" stroke-width="0.2" font-weight="normal">Day</text>
<text x="325.3" y="195.3" font-size="7.9" text-anchor="start" fill="#1a1a1a" stroke="#1a1a1a" stroke-width="0.2" font-weight="normal">Sx</text>
<text x="325.3" y="206.2" font-size="7.9" text-anchor="start" fill="#b4b4b4" stroke="#b4b4b4" stroke-width="0.2" font-weight="normal">intake</text>
<polygon points="245.0,221.3 246.7,216.5 248.4,221.3" fill="#fff" stroke="#b8b8b8" stroke-width="0.6"/>
<polygon points="315.2,220.8 316.8,216.5 318.4,220.8" fill="#fff" stroke="#b8b8b8" stroke-width="0.6"/>
<text x="218.5" y="229.2" font-size="8.0" text-anchor="start" fill="#1a1a1a" stroke="#1a1a1a" stroke-width="0.2" font-weight="normal">KRN951 start</text>
<text x="299.4" y="228.3" font-size="7.9" text-anchor="start" fill="#1a1a1a" stroke="#1a1a1a" stroke-width="0.2" font-weight="normal">end point</text>
<text x="357.5" y="12.0" font-size="14" text-anchor="start" fill="#000" stroke="#000" stroke-width="0.15" font-weight="bold">E</text>
<line x1="382.0" y1="20.5" x2="382.0" y2="106.0" stroke="#8e8e8e" stroke-width="1"/>
<line x1="382.0" y1="106.0" x2="478.5" y2="106.0" stroke="#8e8e8e" stroke-width="1"/>
<text x="377.2" y="109.0" font-size="8.1" text-anchor="end" fill="#1a1a1a" stroke="#1a1a1a" stroke-width="0.2" font-weight="normal">0</text>
<line x1="382.0" y1="106.00" x2="384.0" y2="106.00" stroke="#8e8e8e" stroke-width="0.8"/>
<text x="377.2" y="87.75" font-size="8.1" text-anchor="end" fill="#1a1a1a" stroke="#1a1a1a" stroke-width="0.2" font-weight="normal">1</text>
<line x1="382.0" y1="84.75" x2="384.0" y2="84.75" stroke="#8e8e8e" stroke-width="0.8"/>
<text x="377.2" y="66.5" font-size="8.1" text-anchor="end" fill="#1a1a1a" stroke="#1a1a1a" stroke-width="0.2" font-weight="normal">2</text>
<line x1="382.0" y1="63.50" x2="384.0" y2="63.50" stroke="#8e8e8e" stroke-width="0.8"/>
<text x="377.2" y="45.25" font-size="8.1" text-anchor="end" fill="#1a1a1a" stroke="#1a1a1a" stroke-width="0.2" font-weight="normal">3</text>
<line x1="382.0" y1="42.25" x2="384.0" y2="42.25" stroke="#8e8e8e" stroke-width="0.8"/>
<text x="377.2" y="24.0" font-size="8.1" text-anchor="end" fill="#1a1a1a" stroke="#1a1a1a" stroke-width="0.2" font-weight="normal">4</text>
<line x1="382.0" y1="21.00" x2="384.0" y2="21.00" stroke="#8e8e8e" stroke-width="0.8"/>
<line x1="413.6" y1="106.0" x2="413.6" y2="104.0" stroke="#8e8e8e" stroke-width="0.7"/>
<line x1="447.5" y1="106.0" x2="447.5" y2="104.0" stroke="#8e8e8e" stroke-width="0.7"/>
<line x1="478.0" y1="106.0" x2="478.0" y2="104.0" stroke="#8e8e8e" stroke-width="0.7"/>
<text x="364.0" y="64.4" font-size="8.5" text-anchor="middle" fill="#1a1a1a" stroke="#1a1a1a" stroke-width="0.2" font-weight="normal" transform="translate(364.0 64.4) rotate(-90) scale(0.895 1) translate(-364.0 -64.4)">Degree of arthritis</text>
<line x1="388.90" y1="51.00" x2="388.90" y2="58.80" stroke="#5c5c5c" stroke-width="0.55"/>
<line x1="388.00" y1="51.00" x2="389.80" y2="51.00" stroke="#5c5c5c" stroke-width="0.55"/>
<rect x="385.90" y="58.80" width="6.00" height="47.20" fill="#a8a8a8" stroke="#959595" stroke-width="0.6"/>
<line x1="394.90" y1="65.80" x2="394.90" y2="70.60" stroke="#5c5c5c" stroke-width="0.55"/>
<line x1="394.00" y1="65.80" x2="395.80" y2="65.80" stroke="#5c5c5c" stroke-width="0.55"/>
<rect x="391.90" y="70.60" width="6.00" height="35.40" fill="#6a6a6a" stroke="#5a5a5a" stroke-width="0.6"/>
<line x1="400.90" y1="63.00" x2="400.90" y2="70.60" stroke="#5c5c5c" stroke-width="0.55"/>
<line x1="400.00" y1="63.00" x2="401.80" y2="63.00" stroke="#5c5c5c" stroke-width="0.55"/>
<rect x="397.90" y="70.60" width="6.00" height="35.40" fill="#fff" stroke="#a8a8a8" stroke-width="0.6"/>
<line x1="406.90" y1="72.00" x2="406.90" y2="84.40" stroke="#5c5c5c" stroke-width="0.55"/>
<line x1="406.00" y1="72.00" x2="407.80" y2="72.00" stroke="#5c5c5c" stroke-width="0.55"/>
<rect x="403.90" y="84.40" width="6.00" height="21.60" fill="#ececec" stroke="#c4c4c4" stroke-width="0.6"/>
<line x1="420.75" y1="38.90" x2="420.75" y2="50.20" stroke="#5c5c5c" stroke-width="0.55"/>
<line x1="419.85" y1="38.90" x2="421.65" y2="38.90" stroke="#5c5c5c" stroke-width="0.55"/>
<rect x="417.75" y="50.20" width="6.00" height="55.80" fill="#a8a8a8" stroke="#959595" stroke-width="0.6"/>
<line x1="426.75" y1="53.20" x2="426.75" y2="60.20" stroke="#5c5c5c" stroke-width="0.55"/>
<line x1="425.85" y1="53.20" x2="427.65" y2="53.20" stroke="#5c5c5c" stroke-width="0.55"/>
<rect x="423.75" y="60.20" width="6.00" height="45.80" fill="#6a6a6a" stroke="#5a5a5a" stroke-width="0.6"/>
<line x1="432.75" y1="53.20" x2="432.75" y2="63.30" stroke="#5c5c5c" stroke-width="0.55"/>
<line x1="431.85" y1="53.20" x2="433.65" y2="53.20" stroke="#5c5c5c" stroke-width="0.55"/>
<rect x="429.75" y="63.30" width="6.00" height="42.70" fill="#fff" stroke="#a8a8a8" stroke-width="0.6"/>
<line x1="438.75" y1="65.50" x2="438.75" y2="79.30" stroke="#5c5c5c" stroke-width="0.55"/>
<line x1="437.85" y1="65.50" x2="439.65" y2="65.50" stroke="#5c5c5c" stroke-width="0.55"/>
<rect x="435.75" y="79.30" width="6.00" height="26.70" fill="#ececec" stroke="#c4c4c4" stroke-width="0.6"/>
<line x1="452.60" y1="30.00" x2="452.60" y2="42.20" stroke="#5c5c5c" stroke-width="0.55"/>
<line x1="451.70" y1="30.00" x2="453.50" y2="30.00" stroke="#5c5c5c" stroke-width="0.55"/>
<rect x="449.60" y="42.20" width="6.00" height="63.80" fill="#a8a8a8" stroke="#959595" stroke-width="0.6"/>
<line x1="458.60" y1="45.00" x2="458.60" y2="52.70" stroke="#5c5c5c" stroke-width="0.55"/>
<line x1="457.70" y1="45.00" x2="459.50" y2="45.00" stroke="#5c5c5c" stroke-width="0.55"/>
<rect x="455.60" y="52.70" width="6.00" height="53.30" fill="#6a6a6a" stroke="#5a5a5a" stroke-width="0.6"/>
<line x1="464.60" y1="49.40" x2="464.60" y2="59.70" stroke="#5c5c5c" stroke-width="0.55"/>
<line x1="463.70" y1="49.40" x2="465.50" y2="49.40" stroke="#5c5c5c" stroke-width="0.55"/>
<rect x="461.60" y="59.70" width="6.00" height="46.30" fill="#fff" stroke="#a8a8a8" stroke-width="0.6"/>
<line x1="470.60" y1="52.00" x2="470.60" y2="68.30" stroke="#5c5c5c" stroke-width="0.55"/>
<line x1="469.70" y1="52.00" x2="471.50" y2="52.00" stroke="#5c5c5c" stroke-width="0.55"/>
<rect x="467.60" y="68.30" width="6.00" height="37.70" fill="#ececec" stroke="#c4c4c4" stroke-width="0.6"/>
<rect x="427.20" y="15.00" width="4.20" height="4.20" fill="#a8a8a8" stroke="#5a5a5a" stroke-width="0.65"/>
<rect x="457.30" y="15.00" width="4.20" height="4.20" fill="#6a6a6a" stroke="#5a5a5a" stroke-width="0.65"/>
<rect x="427.20" y="23.40" width="4.20" height="4.20" fill="#fff" stroke="#5a5a5a" stroke-width="0.65"/>
<rect x="457.30" y="23.40" width="4.20" height="4.20" fill="#ececec" stroke="#5a5a5a" stroke-width="0.65"/>
<text x="432.9" y="19.7" font-size="7.0" text-anchor="start" fill="#1a1a1a" stroke="#1a1a1a" stroke-width="0.2" font-weight="normal" transform="translate(432.9 19.7) scale(0.915 1) translate(-432.9 -19.7)">Control</text>
<text x="463" y="19.7" font-size="7.0" text-anchor="start" fill="#1a1a1a" stroke="#1a1a1a" stroke-width="0.2" font-weight="normal" transform="translate(463 19.7) scale(0.915 1) translate(-463 -19.7)">10mg</text>
<text x="432.9" y="28.099999999999998" font-size="7.0" text-anchor="start" fill="#1a1a1a" stroke="#1a1a1a" stroke-width="0.2" font-weight="normal" transform="translate(432.9 28.099999999999998) scale(0.915 1) translate(-432.9 -28.099999999999998)">20mg</text>
<text x="463" y="28.099999999999998" font-size="7.0" text-anchor="start" fill="#1a1a1a" stroke="#1a1a1a" stroke-width="0.2" font-weight="normal" transform="translate(463 28.099999999999998) scale(0.915 1) translate(-463 -28.099999999999998)">40mg</text>
<text x="395.0" y="111.2" font-size="8.35" text-anchor="start" fill="#1a1a1a" stroke="#1a1a1a" stroke-width="0.2" font-weight="normal" transform="translate(395.0 111.2) rotate(50) scale(0.95 1) translate(-395.0 -111.2)">Day 5</text>
<text x="431.0" y="111.0" font-size="8.35" text-anchor="start" fill="#1a1a1a" stroke="#1a1a1a" stroke-width="0.2" font-weight="normal" transform="translate(431.0 111.0) rotate(50) scale(0.95 1) translate(-431.0 -111.0)">Day 6</text>
<text x="461.4" y="111.0" font-size="8.35" text-anchor="start" fill="#1a1a1a" stroke="#1a1a1a" stroke-width="0.2" font-weight="normal" transform="translate(461.4 111.0) rotate(50) scale(0.95 1) translate(-461.4 -111.0)">Day 7</text>
<text x="358.3" y="143.5" font-size="14" text-anchor="start" fill="#000" stroke="#000" stroke-width="0.15" font-weight="bold">F</text>
<line x1="381.4" y1="142.8" x2="381.4" y2="226.3" stroke="#8e8e8e" stroke-width="1"/>
<line x1="381.4" y1="226.3" x2="481" y2="226.3" stroke="#8e8e8e" stroke-width="1"/>
<text x="378.4" y="228.5" font-size="8.1" text-anchor="end" fill="#1a1a1a" stroke="#1a1a1a" stroke-width="0.2" font-weight="normal">0</text>
<line x1="381.4" y1="226.30" x2="383.4" y2="226.30" stroke="#8e8e8e" stroke-width="0.8"/>
<text x="378.4" y="213.45" font-size="8.1" text-anchor="end" fill="#1a1a1a" stroke="#1a1a1a" stroke-width="0.2" font-weight="normal">1</text>
<line x1="381.4" y1="211.25" x2="383.4" y2="211.25" stroke="#8e8e8e" stroke-width="0.8"/>
<text x="378.4" y="198.4" font-size="8.1" text-anchor="end" fill="#1a1a1a" stroke="#1a1a1a" stroke-width="0.2" font-weight="normal">2</text>
<line x1="381.4" y1="196.20" x2="383.4" y2="196.20" stroke="#8e8e8e" stroke-width="0.8"/>
<text x="378.4" y="183.35" font-size="8.1" text-anchor="end" fill="#1a1a1a" stroke="#1a1a1a" stroke-width="0.2" font-weight="normal">3</text>
<line x1="381.4" y1="181.15" x2="383.4" y2="181.15" stroke="#8e8e8e" stroke-width="0.8"/>
<text x="378.4" y="168.3" font-size="8.1" text-anchor="end" fill="#1a1a1a" stroke="#1a1a1a" stroke-width="0.2" font-weight="normal">4</text>
<line x1="381.4" y1="166.10" x2="383.4" y2="166.10" stroke="#8e8e8e" stroke-width="0.8"/>
<text x="378.4" y="153.25" font-size="8.1" text-anchor="end" fill="#1a1a1a" stroke="#1a1a1a" stroke-width="0.2" font-weight="normal">5</text>
<line x1="381.4" y1="151.05" x2="383.4" y2="151.05" stroke="#8e8e8e" stroke-width="0.8"/>
<line x1="381.4" y1="226.30" x2="382.59999999999997" y2="226.30" stroke="#8e8e8e" stroke-width="0.4"/>
<line x1="381.4" y1="224.80" x2="382.59999999999997" y2="224.80" stroke="#8e8e8e" stroke-width="0.4"/>
<line x1="381.4" y1="223.29" x2="382.59999999999997" y2="223.29" stroke="#8e8e8e" stroke-width="0.4"/>
<line x1="381.4" y1="221.79" x2="382.59999999999997" y2="221.79" stroke="#8e8e8e" stroke-width="0.4"/>
<line x1="381.4" y1="220.28" x2="382.59999999999997" y2="220.28" stroke="#8e8e8e" stroke-width="0.4"/>
<line x1="381.4" y1="218.78" x2="382.59999999999997" y2="218.78" stroke="#8e8e8e" stroke-width="0.4"/>
<line x1="381.4" y1="217.27" x2="382.59999999999997" y2="217.27" stroke="#8e8e8e" stroke-width="0.4"/>
<line x1="381.4" y1="215.77" x2="382.59999999999997" y2="215.77" stroke="#8e8e8e" stroke-width="0.4"/>
<line x1="381.4" y1="214.26" x2="382.59999999999997" y2="214.26" stroke="#8e8e8e" stroke-width="0.4"/>
<line x1="381.4" y1="212.75" x2="382.59999999999997" y2="212.75" stroke="#8e8e8e" stroke-width="0.4"/>
<line x1="381.4" y1="211.25" x2="382.59999999999997" y2="211.25" stroke="#8e8e8e" stroke-width="0.4"/>
<line x1="381.4" y1="209.75" x2="382.59999999999997" y2="209.75" stroke="#8e8e8e" stroke-width="0.4"/>
<line x1="381.4" y1="208.24" x2="382.59999999999997" y2="208.24" stroke="#8e8e8e" stroke-width="0.4"/>
<line x1="381.4" y1="206.74" x2="382.59999999999997" y2="206.74" stroke="#8e8e8e" stroke-width="0.4"/>
<line x1="381.4" y1="205.23" x2="382.59999999999997" y2="205.23" stroke="#8e8e8e" stroke-width="0.4"/>
<line x1="381.4" y1="203.73" x2="382.59999999999997" y2="203.73" stroke="#8e8e8e" stroke-width="0.4"/>
<line x1="381.4" y1="202.22" x2="382.59999999999997" y2="202.22" stroke="#8e8e8e" stroke-width="0.4"/>
<line x1="381.4" y1="200.72" x2="382.59999999999997" y2="200.72" stroke="#8e8e8e" stroke-width="0.4"/>
<line x1="381.4" y1="199.21" x2="382.59999999999997" y2="199.21" stroke="#8e8e8e" stroke-width="0.4"/>
<line x1="381.4" y1="197.71" x2="382.59999999999997" y2="197.71" stroke="#8e8e8e" stroke-width="0.4"/>
<line x1="381.4" y1="196.20" x2="382.59999999999997" y2="196.20" stroke="#8e8e8e" stroke-width="0.4"/>
<line x1="381.4" y1="194.70" x2="382.59999999999997" y2="194.70" stroke="#8e8e8e" stroke-width="0.4"/>
<line x1="381.4" y1="193.19" x2="382.59999999999997" y2="193.19" stroke="#8e8e8e" stroke-width="0.4"/>
<line x1="381.4" y1="191.69" x2="382.59999999999997" y2="191.69" stroke="#8e8e8e" stroke-width="0.4"/>
<line x1="381.4" y1="190.18" x2="382.59999999999997" y2="190.18" stroke="#8e8e8e" stroke-width="0.4"/>
<line x1="381.4" y1="188.68" x2="382.59999999999997" y2="188.68" stroke="#8e8e8e" stroke-width="0.4"/>
<line x1="381.4" y1="187.17" x2="382.59999999999997" y2="187.17" stroke="#8e8e8e" stroke-width="0.4"/>
<line x1="381.4" y1="185.67" x2="382.59999999999997" y2="185.67" stroke="#8e8e8e" stroke-width="0.4"/>
<line x1="381.4" y1="184.16" x2="382.59999999999997" y2="184.16" stroke="#8e8e8e" stroke-width="0.4"/>
<line x1="381.4" y1="182.66" x2="382.59999999999997" y2="182.66" stroke="#8e8e8e" stroke-width="0.4"/>
<line x1="381.4" y1="181.15" x2="382.59999999999997" y2="181.15" stroke="#8e8e8e" stroke-width="0.4"/>
<line x1="381.4" y1="179.65" x2="382.59999999999997" y2="179.65" stroke="#8e8e8e" stroke-width="0.4"/>
<line x1="381.4" y1="178.14" x2="382.59999999999997" y2="178.14" stroke="#8e8e8e" stroke-width="0.4"/>
<line x1="381.4" y1="176.63" x2="382.59999999999997" y2="176.63" stroke="#8e8e8e" stroke-width="0.4"/>
<line x1="381.4" y1="175.13" x2="382.59999999999997" y2="175.13" stroke="#8e8e8e" stroke-width="0.4"/>
<line x1="381.4" y1="173.62" x2="382.59999999999997" y2="173.62" stroke="#8e8e8e" stroke-width="0.4"/>
<line x1="381.4" y1="172.12" x2="382.59999999999997" y2="172.12" stroke="#8e8e8e" stroke-width="0.4"/>
<line x1="381.4" y1="170.62" x2="382.59999999999997" y2="170.62" stroke="#8e8e8e" stroke-width="0.4"/>
<line x1="381.4" y1="169.11" x2="382.59999999999997" y2="169.11" stroke="#8e8e8e" stroke-width="0.4"/>
<line x1="381.4" y1="167.61" x2="382.59999999999997" y2="167.61" stroke="#8e8e8e" stroke-width="0.4"/>
<line x1="381.4" y1="166.10" x2="382.59999999999997" y2="166.10" stroke="#8e8e8e" stroke-width="0.4"/>
<line x1="381.4" y1="164.59" x2="382.59999999999997" y2="164.59" stroke="#8e8e8e" stroke-width="0.4"/>
<line x1="381.4" y1="163.09" x2="382.59999999999997" y2="163.09" stroke="#8e8e8e" stroke-width="0.4"/>
<line x1="381.4" y1="161.59" x2="382.59999999999997" y2="161.59" stroke="#8e8e8e" stroke-width="0.4"/>
<line x1="381.4" y1="160.08" x2="382.59999999999997" y2="160.08" stroke="#8e8e8e" stroke-width="0.4"/>
<line x1="381.4" y1="158.58" x2="382.59999999999997" y2="158.58" stroke="#8e8e8e" stroke-width="0.4"/>
<line x1="381.4" y1="157.07" x2="382.59999999999997" y2="157.07" stroke="#8e8e8e" stroke-width="0.4"/>
<line x1="381.4" y1="155.56" x2="382.59999999999997" y2="155.56" stroke="#8e8e8e" stroke-width="0.4"/>
<line x1="381.4" y1="154.06" x2="382.59999999999997" y2="154.06" stroke="#8e8e8e" stroke-width="0.4"/>
<line x1="381.4" y1="152.56" x2="382.59999999999997" y2="152.56" stroke="#8e8e8e" stroke-width="0.4"/>
<line x1="381.4" y1="151.05" x2="382.59999999999997" y2="151.05" stroke="#8e8e8e" stroke-width="0.4"/>
<line x1="381.4" y1="149.55" x2="382.59999999999997" y2="149.55" stroke="#8e8e8e" stroke-width="0.4"/>
<line x1="381.4" y1="148.04" x2="382.59999999999997" y2="148.04" stroke="#8e8e8e" stroke-width="0.4"/>
<line x1="381.4" y1="146.53" x2="382.59999999999997" y2="146.53" stroke="#8e8e8e" stroke-width="0.4"/>
<line x1="381.4" y1="145.03" x2="382.59999999999997" y2="145.03" stroke="#8e8e8e" stroke-width="0.4"/>
<line x1="406.6" y1="226.3" x2="406.6" y2="224.3" stroke="#8e8e8e" stroke-width="0.7"/>
<line x1="432.4" y1="226.3" x2="432.4" y2="224.3" stroke="#8e8e8e" stroke-width="0.7"/>
<line x1="458.3" y1="226.3" x2="458.3" y2="224.3" stroke="#8e8e8e" stroke-width="0.7"/>
<line x1="480.6" y1="226.3" x2="480.6" y2="224.3" stroke="#8e8e8e" stroke-width="0.7"/>
<text x="365.8" y="183.3" font-size="8.5" text-anchor="middle" fill="#1a1a1a" stroke="#1a1a1a" stroke-width="0.2" font-weight="normal" transform="translate(365.8 183.3) rotate(-90) scale(0.94 1) translate(-365.8 -183.3)">Histological score</text>
<line x1="386.35" y1="148.80" x2="386.35" y2="159.60" stroke="#5c5c5c" stroke-width="0.55"/>
<line x1="385.45" y1="148.80" x2="387.25" y2="148.80" stroke="#5c5c5c" stroke-width="0.55"/>
<rect x="383.90" y="159.60" width="4.90" height="66.70" fill="#a8a8a8" stroke="#959595" stroke-width="0.6"/>
<line x1="391.25" y1="160.00" x2="391.25" y2="171.10" stroke="#5c5c5c" stroke-width="0.55"/>
<line x1="390.35" y1="160.00" x2="392.15" y2="160.00" stroke="#5c5c5c" stroke-width="0.55"/>
<rect x="388.80" y="171.10" width="4.90" height="55.20" fill="#6a6a6a" stroke="#5a5a5a" stroke-width="0.6"/>
<line x1="396.15" y1="167.00" x2="396.15" y2="178.40" stroke="#5c5c5c" stroke-width="0.55"/>
<line x1="395.25" y1="167.00" x2="397.05" y2="167.00" stroke="#5c5c5c" stroke-width="0.55"/>
<rect x="393.70" y="178.40" width="4.90" height="47.90" fill="#fff" stroke="#a8a8a8" stroke-width="0.6"/>
<line x1="401.05" y1="183.20" x2="401.05" y2="195.70" stroke="#5c5c5c" stroke-width="0.55"/>
<line x1="400.15" y1="183.20" x2="401.95" y2="183.20" stroke="#5c5c5c" stroke-width="0.55"/>
<rect x="398.60" y="195.70" width="4.90" height="30.60" fill="#ececec" stroke="#c4c4c4" stroke-width="0.6"/>
<line x1="412.20" y1="144.50" x2="412.20" y2="159.60" stroke="#5c5c5c" stroke-width="0.55"/>
<line x1="411.30" y1="144.50" x2="413.10" y2="144.50" stroke="#5c5c5c" stroke-width="0.55"/>
<rect x="409.75" y="159.60" width="4.90" height="66.70" fill="#a8a8a8" stroke="#959595" stroke-width="0.6"/>
<line x1="417.10" y1="167.60" x2="417.10" y2="178.40" stroke="#5c5c5c" stroke-width="0.55"/>
<line x1="416.20" y1="167.60" x2="418.00" y2="167.60" stroke="#5c5c5c" stroke-width="0.55"/>
<rect x="414.65" y="178.40" width="4.90" height="47.90" fill="#6a6a6a" stroke="#5a5a5a" stroke-width="0.6"/>
<line x1="422.00" y1="161.80" x2="422.00" y2="173.10" stroke="#5c5c5c" stroke-width="0.55"/>
<line x1="421.10" y1="161.80" x2="422.90" y2="161.80" stroke="#5c5c5c" stroke-width="0.55"/>
<rect x="419.55" y="173.10" width="4.90" height="53.20" fill="#fff" stroke="#a8a8a8" stroke-width="0.6"/>
<line x1="426.90" y1="178.90" x2="426.90" y2="196.20" stroke="#5c5c5c" stroke-width="0.55"/>
<line x1="426.00" y1="178.90" x2="427.80" y2="178.90" stroke="#5c5c5c" stroke-width="0.55"/>
<rect x="424.45" y="196.20" width="4.90" height="30.10" fill="#ececec" stroke="#c4c4c4" stroke-width="0.6"/>
<line x1="438.05" y1="152.00" x2="438.05" y2="168.40" stroke="#5c5c5c" stroke-width="0.55"/>
<line x1="437.15" y1="152.00" x2="438.95" y2="152.00" stroke="#5c5c5c" stroke-width="0.55"/>
<rect x="435.60" y="168.40" width="4.90" height="57.90" fill="#a8a8a8" stroke="#959595" stroke-width="0.6"/>
<line x1="442.95" y1="166.30" x2="442.95" y2="178.40" stroke="#5c5c5c" stroke-width="0.55"/>
<line x1="442.05" y1="166.30" x2="443.85" y2="166.30" stroke="#5c5c5c" stroke-width="0.55"/>
<rect x="440.50" y="178.40" width="4.90" height="47.90" fill="#6a6a6a" stroke="#5a5a5a" stroke-width="0.6"/>
<line x1="447.85" y1="170.60" x2="447.85" y2="180.90" stroke="#5c5c5c" stroke-width="0.55"/>
<line x1="446.95" y1="170.60" x2="448.75" y2="170.60" stroke="#5c5c5c" stroke-width="0.55"/>
<rect x="445.40" y="180.90" width="4.90" height="45.40" fill="#fff" stroke="#a8a8a8" stroke-width="0.6"/>
<line x1="452.75" y1="197.70" x2="452.75" y2="207.30" stroke="#5c5c5c" stroke-width="0.55"/>
<line x1="451.85" y1="197.70" x2="453.65" y2="197.70" stroke="#5c5c5c" stroke-width="0.55"/>
<rect x="450.30" y="207.30" width="4.90" height="19.00" fill="#ececec" stroke="#c4c4c4" stroke-width="0.6"/>
<line x1="463.90" y1="162.60" x2="463.90" y2="178.10" stroke="#5c5c5c" stroke-width="0.55"/>
<line x1="463.00" y1="162.60" x2="464.80" y2="162.60" stroke="#5c5c5c" stroke-width="0.55"/>
<rect x="461.45" y="178.10" width="4.90" height="48.20" fill="#a8a8a8" stroke="#959595" stroke-width="0.6"/>
<line x1="468.80" y1="176.40" x2="468.80" y2="185.90" stroke="#5c5c5c" stroke-width="0.55"/>
<line x1="467.90" y1="176.40" x2="469.70" y2="176.40" stroke="#5c5c5c" stroke-width="0.55"/>
<rect x="466.35" y="185.90" width="4.90" height="40.40" fill="#6a6a6a" stroke="#5a5a5a" stroke-width="0.6"/>
<line x1="473.70" y1="178.90" x2="473.70" y2="188.40" stroke="#5c5c5c" stroke-width="0.55"/>
<line x1="472.80" y1="178.90" x2="474.60" y2="178.90" stroke="#5c5c5c" stroke-width="0.55"/>
<rect x="471.25" y="188.40" width="4.90" height="37.90" fill="#fff" stroke="#a8a8a8" stroke-width="0.6"/>
<line x1="478.60" y1="197.70" x2="478.60" y2="207.30" stroke="#5c5c5c" stroke-width="0.55"/>
<line x1="477.70" y1="197.70" x2="479.50" y2="197.70" stroke="#5c5c5c" stroke-width="0.55"/>
<rect x="476.15" y="207.30" width="4.90" height="19.00" fill="#ececec" stroke="#c4c4c4" stroke-width="0.6"/>
<text x="401.2" y="182.5" font-size="8.6" text-anchor="middle" fill="#1a1a1a" stroke="#1a1a1a" stroke-width="0.15" font-weight="bold">*</text>
<text x="427.6" y="177.9" font-size="8.6" text-anchor="middle" fill="#1a1a1a" stroke="#1a1a1a" stroke-width="0.15" font-weight="bold">*</text>
<text x="452.7" y="196.3" font-size="8.6" text-anchor="middle" fill="#1a1a1a" stroke="#1a1a1a" stroke-width="0.15" font-weight="bold">*</text>
<text x="478.3" y="196.3" font-size="8.6" text-anchor="middle" fill="#1a1a1a" stroke="#1a1a1a" stroke-width="0.15" font-weight="bold">*</text>
<rect x="444.80" y="146.00" width="4.20" height="4.20" fill="#a8a8a8" stroke="#5a5a5a" stroke-width="0.65"/>
<rect x="475.60" y="146.00" width="4.20" height="4.20" fill="#6a6a6a" stroke="#5a5a5a" stroke-width="0.65"/>
<rect x="444.80" y="153.00" width="4.20" height="4.20" fill="#fff" stroke="#5a5a5a" stroke-width="0.65"/>
<rect x="475.60" y="153.00" width="4.20" height="4.20" fill="#ececec" stroke="#5a5a5a" stroke-width="0.65"/>
<text x="450.2" y="150.7" font-size="7.0" text-anchor="start" fill="#1a1a1a" stroke="#1a1a1a" stroke-width="0.2" font-weight="normal" transform="translate(450.2 150.7) scale(0.915 1) translate(-450.2 -150.7)">Control</text>
<text x="480.8" y="150.7" font-size="7.0" text-anchor="start" fill="#1a1a1a" stroke="#1a1a1a" stroke-width="0.2" font-weight="normal" transform="translate(480.8 150.7) scale(0.915 1) translate(-480.8 -150.7)">10mg</text>
<text x="450.2" y="157.7" font-size="7.0" text-anchor="start" fill="#1a1a1a" stroke="#1a1a1a" stroke-width="0.2" font-weight="normal" transform="translate(450.2 157.7) scale(0.915 1) translate(-450.2 -157.7)">20mg</text>
<text x="480.8" y="157.7" font-size="7.0" text-anchor="start" fill="#1a1a1a" stroke="#1a1a1a" stroke-width="0.2" font-weight="normal" transform="translate(480.8 157.7) scale(0.915 1) translate(-480.8 -157.7)">40mg</text>
<text x="392.1" y="235.3" font-size="8.35" text-anchor="start" fill="#1a1a1a" stroke="#1a1a1a" stroke-width="0.2" font-weight="normal" transform="translate(392.1 235.3) rotate(49) scale(0.93 1) translate(-392.1 -235.3)">Synovial</text>
<text x="385.1" y="241.0" font-size="8.35" text-anchor="start" fill="#1a1a1a" stroke="#1a1a1a" stroke-width="0.2" font-weight="normal" transform="translate(385.1 241.0) rotate(49) scale(0.93 1) translate(-385.1 -241.0)">hyperplasia</text>
<text x="421.1" y="234.8" font-size="8.35" text-anchor="start" fill="#1a1a1a" stroke="#1a1a1a" stroke-width="0.2" font-weight="normal" transform="translate(421.1 234.8) rotate(49) scale(0.93 1) translate(-421.1 -234.8)">Inflammatory</text>
<text x="415.1" y="241.7" font-size="8.35" text-anchor="start" fill="#1a1a1a" stroke="#1a1a1a" stroke-width="0.2" font-weight="normal" transform="translate(415.1 241.7) rotate(49) scale(0.93 1) translate(-415.1 -241.7)">cell infiltration</text>
<text x="442.6" y="235.0" font-size="8.35" text-anchor="start" fill="#1a1a1a" stroke="#1a1a1a" stroke-width="0.2" font-weight="normal" transform="translate(442.6 235.0) rotate(49) scale(0.93 1) translate(-442.6 -235.0)">Pannus formation</text>
<text x="472.9" y="234.7" font-size="8.35" text-anchor="start" fill="#1a1a1a" stroke="#1a1a1a" stroke-width="0.2" font-weight="normal" transform="translate(472.9 234.7) rotate(49) scale(0.93 1) translate(-472.9 -234.7)">Cartilage and bone</text>
<text x="467.1" y="241.3" font-size="8.35" text-anchor="start" fill="#1a1a1a" stroke="#1a1a1a" stroke-width="0.2" font-weight="normal" transform="translate(467.1 241.3) rotate(49) scale(0.93 1) translate(-467.1 -241.3)">destruction</text>
</svg>
</body>
</html>
